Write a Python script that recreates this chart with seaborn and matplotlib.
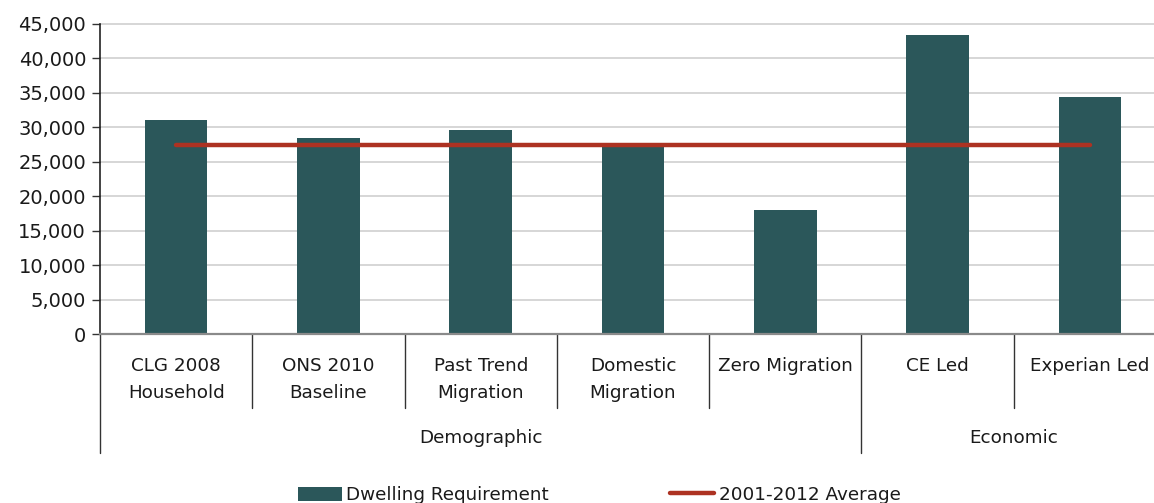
import matplotlib
matplotlib.use("Agg")
import matplotlib.pyplot as plt
import matplotlib.transforms as mtransforms
from matplotlib.patches import Patch
from matplotlib.lines import Line2D
from matplotlib.ticker import FuncFormatter, MultipleLocator
import seaborn as sns

# ---- data ----
categories = ["CLG 2008\nHousehold", "ONS 2010\nBaseline", "Past Trend\nMigration",
              "Domestic\nMigration", "Zero Migration", "CE Led", "Experian Led"]
dwelling_requirement = [31100, 28500, 29600, 27700, 18000, 43400, 34400]
average_2001_2012 = 27500
groups = ["Demographic", "Economic"]
group_sizes = [5, 2]
series_names = ["Dwelling Requirement", "2001-2012 Average"]
y_ticks_max = 45000
y_tick_step = 5000

bar_color = "#2b575a"
line_color = "#ad3222"

sns.set_style("white")
plt.rcParams["font.family"] = ["DejaVu Sans"]

W, H = 1154, 503
fig = plt.figure(figsize=(W / 100, H / 100), dpi=100)
ax_left, ax_right, ax_top, ax_bottom = 100, 1166, 24, 334
ax = fig.add_axes([ax_left / W, (H - ax_bottom) / H,
                   (ax_right - ax_left) / W, (ax_bottom - ax_top) / H])

def yfrac(ypx):
    return (ax_bottom - ypx) / (ax_bottom - ax_top)

ax.set_axisbelow(True)
ax.yaxis.grid(True, color="#cfcfcf", linewidth=1.2)
sns.barplot(x=list(range(len(categories))), y=dwelling_requirement, color=bar_color,
            saturation=1, width=0.41, ax=ax, native_scale=True, linewidth=0)
n = len(categories)
ax.hlines(average_2001_2012, 0, n - 1, color=line_color, linewidth=3.2,
          capstyle="round", zorder=5)

ax.set_xlim(-0.5, n - 0.5)
ax.set_ylim(0, y_ticks_max)
ax.yaxis.set_major_locator(MultipleLocator(y_tick_step))
ax.yaxis.set_major_formatter(FuncFormatter(lambda v, p: f"{int(v):,}"))
ax.tick_params(axis="y", which="major", length=6, width=1, color="#333333",
               labelsize=14, labelcolor="#1a1a1a", pad=4, left=True)
ax.set_xticks([])
ax.set_xlabel("")
ax.set_ylabel("")
for s in ["top", "right"]:
    ax.spines[s].set_visible(False)
ax.spines["left"].set_color("#222222")
ax.spines["left"].set_linewidth(1.2)
ax.spines["bottom"].set_color("#8a8a8a")
ax.spines["bottom"].set_linewidth(1.6)
for gl in ax.get_ygridlines():
    gl.set_clip_on(False)

trans = mtransforms.blended_transform_factory(ax.transData, ax.transAxes)

# category labels
for i, lab in enumerate(categories):
    ax.text(i, yfrac(357), lab, transform=trans, ha="center", va="top",
            fontsize=13.2, color="#1a1a1a", linespacing=1.62)

# separators
boundaries = []
acc = 0
for g in group_sizes:
    acc += g
    boundaries.append(acc - 0.5)
for k in range(n + 1):
    x = k - 0.5
    if x >= n - 0.5:
        continue
    long = (x == -0.5) or (x in boundaries)
    y_end = 453 if long else 408
    ax.plot([x, x], [0, yfrac(y_end)], transform=trans, color="#333333",
            linewidth=1, clip_on=False)

# group labels
start = -0.5
for g, size in zip(groups, group_sizes):
    end = start + size
    ax.text((start + end) / 2, yfrac(438), g, transform=trans, ha="center",
            va="center", fontsize=13.2, color="#1a1a1a")
    start = end

handles = [Patch(facecolor=bar_color, edgecolor="none"),
           Line2D([0], [0], color=line_color, linewidth=3.2)]
fig.legend(handles, series_names, loc="center", bbox_to_anchor=(599 / W, 1 - 495 / H),
           ncol=2, frameon=False, fontsize=13.2, handlelength=2.4, handleheight=0.8,
           handletextpad=0.25, columnspacing=6.6, labelcolor="#1a1a1a")

fig.savefig("out.png", dpi=100)
